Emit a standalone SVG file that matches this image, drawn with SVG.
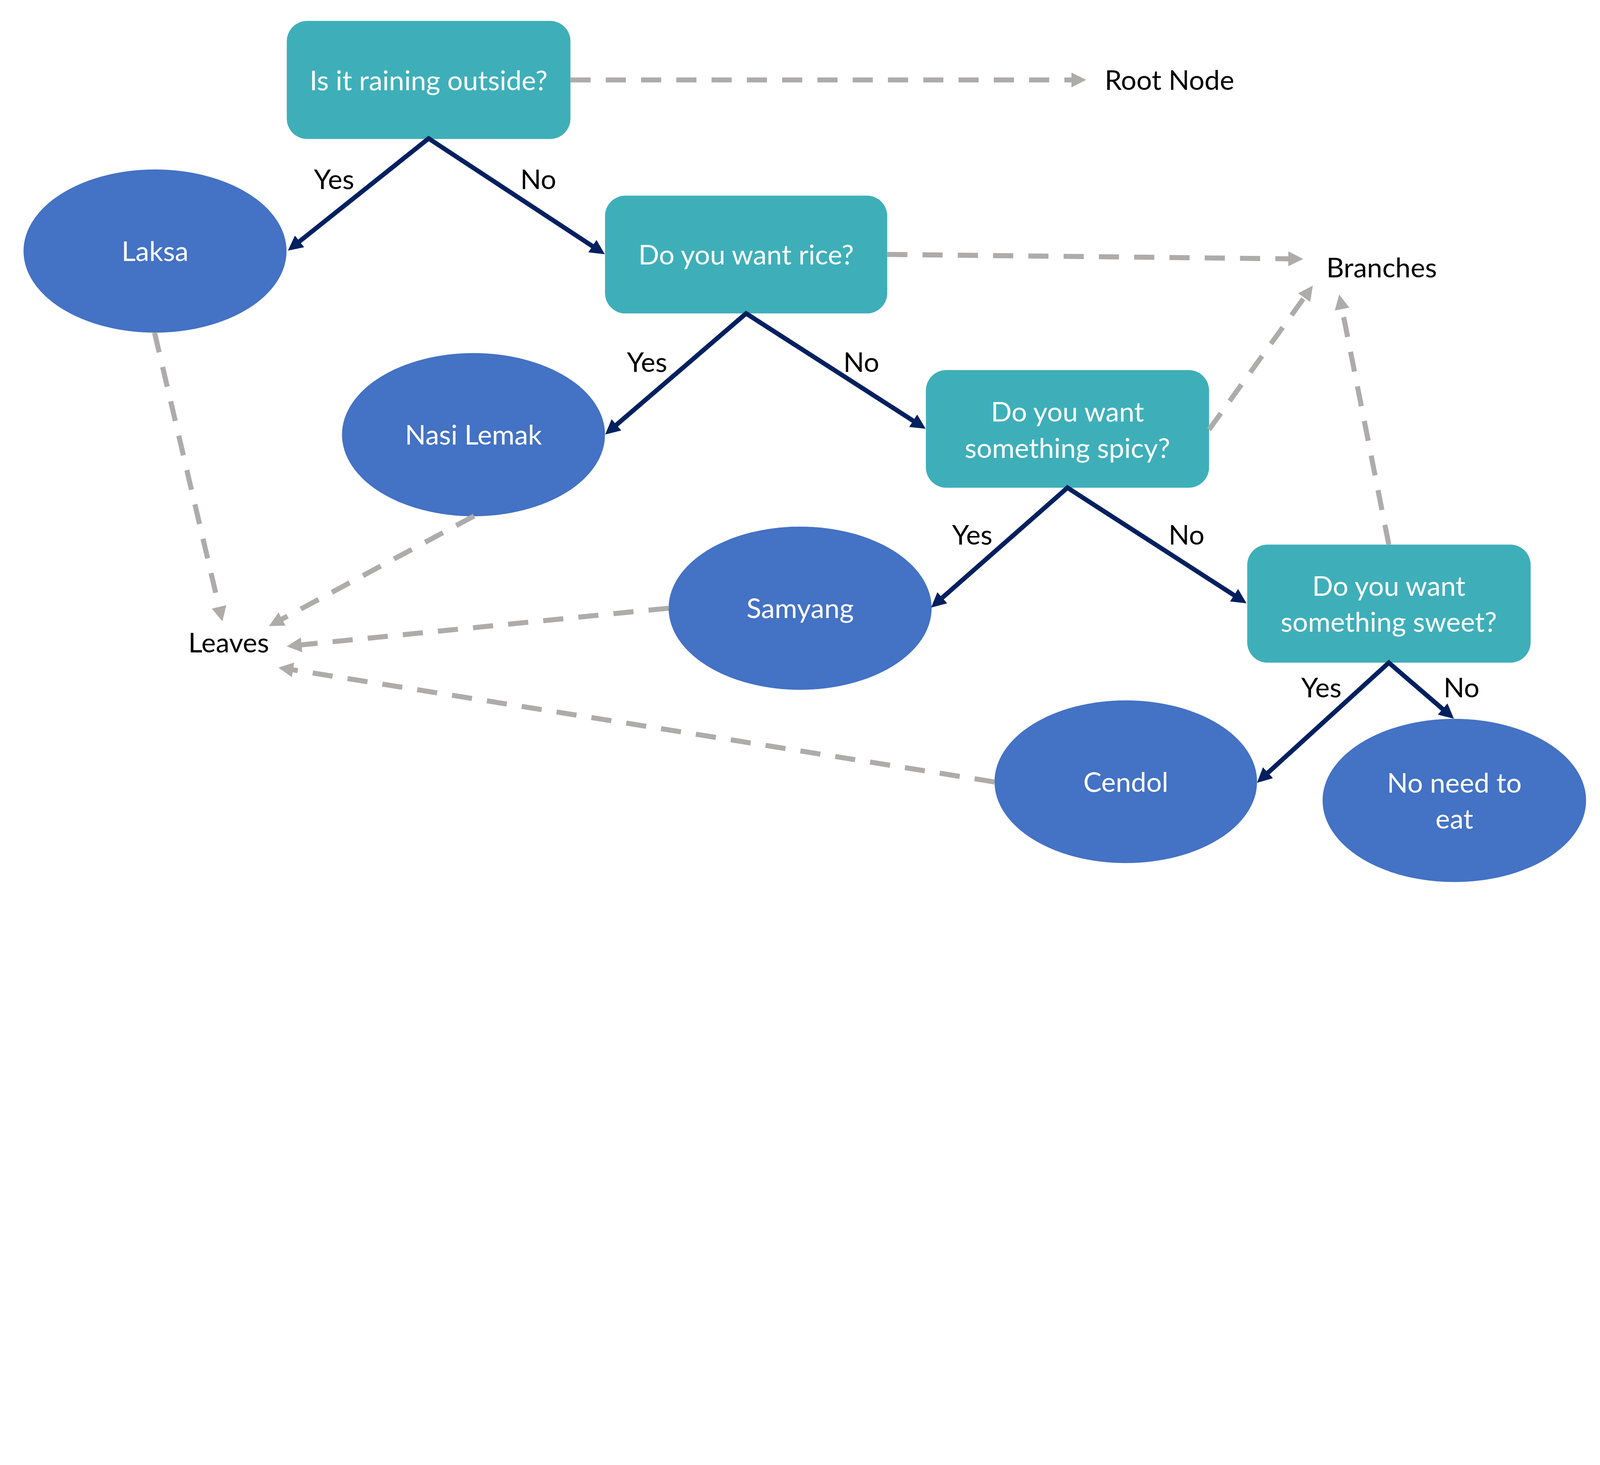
<svg xmlns="http://www.w3.org/2000/svg" width="6667" height="3750" viewBox="0 0 6667 3750" preserveAspectRatio="xMidYMin meet">
<style>
svg{width:100vw;height:100vh}
text{font-family:Lato,"Liberation Sans",sans-serif;font-size:114px;text-anchor:middle}
.q{fill:#3EAFB9}
.leaf{fill:#4472C4}
.w{fill:#FFFFFF}
.k{fill:#000000}
.solid{fill:none;stroke:#002060;stroke-width:19;stroke-linejoin:miter;marker-start:url(#ahn);marker-end:url(#ahn)}
.dash{fill:none;stroke:#AEABAB;stroke-width:21;stroke-dasharray:84 63;marker-end:url(#ahg)}
</style>
<defs>
<marker id="ahn" markerUnits="userSpaceOnUse" viewBox="0 0 62 62" markerWidth="62" markerHeight="62" refX="1" refY="31" orient="auto-start-reverse"><path d="M0,0 L62,31 L0,62 Z" fill="#002060"/></marker>
<marker id="ahg" markerUnits="userSpaceOnUse" viewBox="0 0 62 62" markerWidth="62" markerHeight="62" refX="1" refY="31" orient="auto"><path d="M0,0 L62,31 L0,62 Z" fill="#AEABAB"/></marker>
</defs>
<rect width="6667" height="3750" fill="#FFFFFF"/>
<g id="q1"><rect class="q" x="1195" y="87" width="1182" height="492" rx="85" ry="85"/><text class="w" x="1786" y="376">Is it raining outside?</text></g>
<g id="q2"><rect class="q" x="2521" y="815" width="1176" height="491" rx="85" ry="85"/><text class="w" x="3109" y="1102">Do you want rice?</text></g>
<g id="q3"><rect class="q" x="3858" y="1542" width="1180" height="490" rx="85" ry="85"/><text class="w" x="4448" y="1757">Do you want</text><text class="w" x="4448" y="1907">something spicy?</text></g>
<g id="q4"><rect class="q" x="5197" y="2269" width="1181" height="492" rx="85" ry="85"/><text class="w" x="5787" y="2482">Do you want</text><text class="w" x="5787" y="2632">something sweet?</text></g>
<g id="laksa"><ellipse class="leaf" cx="646" cy="1046" rx="548" ry="340"/><text class="w" x="646" y="1087">Laksa</text></g>
<g id="nasi"><ellipse class="leaf" cx="1973" cy="1811" rx="548" ry="340"/><text class="w" x="1973" y="1853">Nasi Lemak</text></g>
<g id="samyang"><ellipse class="leaf" cx="3334" cy="2534" rx="548" ry="340"/><text class="w" x="3334" y="2575">Samyang</text></g>
<g id="cendol"><ellipse class="leaf" cx="4691" cy="3257" rx="547" ry="339"/><text class="w" x="4691" y="3299">Cendol</text></g>
<g id="noneed"><ellipse class="leaf" cx="6060" cy="3335" rx="549" ry="340"/><text class="w" x="6060" y="3303">No need to</text><text class="w" x="6060" y="3453">eat</text></g>
<g id="root-label"><text class="k" x="4873" y="374">Root Node</text></g>
<g id="branches-label"><text class="k" x="5757" y="1155">Branches</text></g>
<g id="leaves-label"><text class="k" x="953" y="2719">Leaves</text></g>
<g id="connectors">
<path class="solid" d="M1247.4,1006.3 L1786,577 L2469.2,1025.9"/>
<path class="solid" d="M2568,1770.6 L3109,1306 L3805.8,1753.5"/>
<path class="solid" d="M3925.6,2491.1 L4448,2032 L5142.9,2480.4"/>
<path class="solid" d="M5282.8,3220.2 L5787,2761 L6012,2954.6"/>
<path class="dash" d="M2377,333 L4465,333"/>
<path class="dash" d="M3697,1060 L5369,1078.3"/>
<path class="dash" d="M5038,1790 L5434.8,1239.3"/>
<path class="dash" d="M5787,2269 L5592.1,1286.8"/>
<path class="dash" d="M644,1386 L912.8,2529.6"/>
<path class="dash" d="M1975,2150 L1174.6,2579.7"/>
<path class="dash" d="M2786,2534 L1255.7,2686.8"/>
<path class="dash" d="M4144,3258 L1220.2,2790.8"/>
<text class="k" x="1392" y="788">Yes</text>
<text class="k" x="2243" y="788">No</text>
<text class="k" x="2696" y="1549">Yes</text>
<text class="k" x="3589" y="1549">No</text>
<text class="k" x="4051" y="2269">Yes</text>
<text class="k" x="4944" y="2269">No</text>
<text class="k" x="5506" y="2906">Yes</text>
<text class="k" x="6090" y="2906">No</text>
</g>
</svg>
